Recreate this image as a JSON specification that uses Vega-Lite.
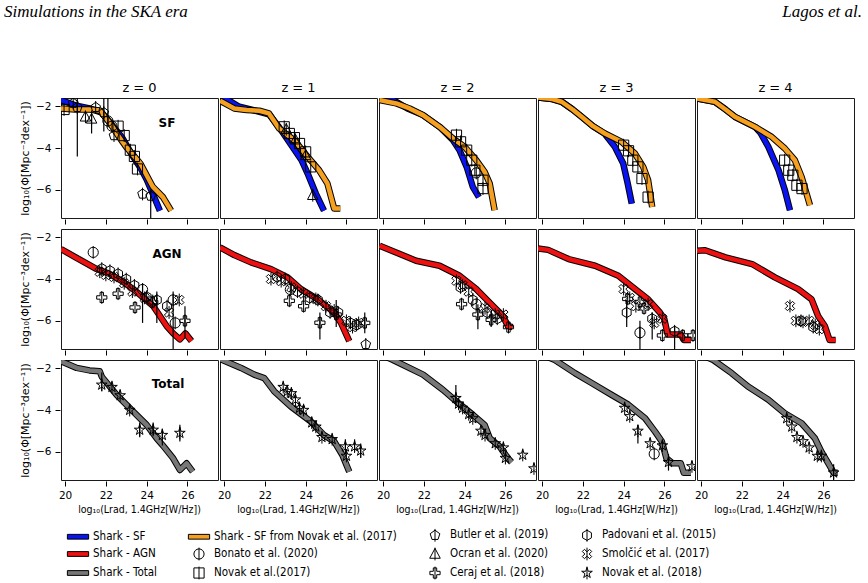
{
  "$schema": "https://vega.github.io/schema/vega-lite/v6.json",
  "background": "white",
  "padding": {"left": 4, "top": 2, "right": 5, "bottom": 2},
  "config": {
    "view": {"stroke": "#1a1a1a", "strokeWidth": 1},
    "font": "DejaVu Sans",
    "axis": {"labelFont": "DejaVu Sans", "labelFontSize": 10.5, "labelColor": "#000", "tickColor": "#000", "tickSize": 5, "tickWidth": 1, "labelPadding": 4, "domain": false, "grid": false, "titleFont": "DejaVu Sans", "titleFontSize": 11, "titleFontWeight": "normal", "titleColor": "#000", "titlePadding": 5},
    "header": {"labelFont": "DejaVu Sans", "labelColor": "#000"},
    "legend": {"labelFont": "DejaVu Sans Condensed", "labelFontSize": 11.5, "labelColor": "#000", "labelLimit": 400, "symbolStrokeColor": "#000", "symbolStrokeWidth": 1, "symbolSize": 289, "labelOffset": 6, "rowPadding": 1, "columnPadding": 29, "padding": 0}
  },
  "datasets": {
    "lf": [
      {"r":"SF","z":0,"s":"Shark - SF","x":19.8,"y":-1.7},
      {"r":"SF","z":0,"s":"Shark - SF","x":20.5,"y":-1.95},
      {"r":"SF","z":0,"s":"Shark - SF","x":21.2,"y":-2.1},
      {"r":"SF","z":0,"s":"Shark - SF","x":21.8,"y":-2.3},
      {"r":"SF","z":0,"s":"Shark - SF","x":22.3,"y":-2.9},
      {"r":"SF","z":0,"s":"Shark - SF","x":22.8,"y":-3.5},
      {"r":"SF","z":0,"s":"Shark - SF","x":23.3,"y":-4.35},
      {"r":"SF","z":0,"s":"Shark - SF","x":23.7,"y":-4.95},
      {"r":"SF","z":0,"s":"Shark - SF","x":24.0,"y":-5.5},
      {"r":"SF","z":0,"s":"Shark - SF","x":24.35,"y":-6.3},
      {"r":"SF","z":0,"s":"Shark - SF","x":24.65,"y":-7.0},
      {"r":"SF","z":0,"s":"Shark - SF from Novak et al. (2017)","x":19.8,"y":-2.1},
      {"r":"SF","z":0,"s":"Shark - SF from Novak et al. (2017)","x":20.5,"y":-2.15},
      {"r":"SF","z":0,"s":"Shark - SF from Novak et al. (2017)","x":21.2,"y":-2.15},
      {"r":"SF","z":0,"s":"Shark - SF from Novak et al. (2017)","x":21.7,"y":-2.2},
      {"r":"SF","z":0,"s":"Shark - SF from Novak et al. (2017)","x":22.2,"y":-2.8},
      {"r":"SF","z":0,"s":"Shark - SF from Novak et al. (2017)","x":22.6,"y":-3.4},
      {"r":"SF","z":0,"s":"Shark - SF from Novak et al. (2017)","x":23.0,"y":-3.95},
      {"r":"SF","z":0,"s":"Shark - SF from Novak et al. (2017)","x":23.4,"y":-4.4},
      {"r":"SF","z":0,"s":"Shark - SF from Novak et al. (2017)","x":23.7,"y":-4.75},
      {"r":"SF","z":0,"s":"Shark - SF from Novak et al. (2017)","x":24.3,"y":-5.85},
      {"r":"SF","z":0,"s":"Shark - SF from Novak et al. (2017)","x":24.8,"y":-6.35},
      {"r":"SF","z":0,"s":"Shark - SF from Novak et al. (2017)","x":25.2,"y":-7.0},

      {"r":"SF","z":1,"s":"Shark - SF","x":19.8,"y":-1.45},
      {"r":"SF","z":1,"s":"Shark - SF","x":20.2,"y":-1.7},
      {"r":"SF","z":1,"s":"Shark - SF","x":20.7,"y":-2.0},
      {"r":"SF","z":1,"s":"Shark - SF","x":21.5,"y":-2.2},
      {"r":"SF","z":1,"s":"Shark - SF","x":22.2,"y":-2.38},
      {"r":"SF","z":1,"s":"Shark - SF","x":22.7,"y":-3.0},
      {"r":"SF","z":1,"s":"Shark - SF","x":23.3,"y":-3.86},
      {"r":"SF","z":1,"s":"Shark - SF","x":23.8,"y":-4.58},
      {"r":"SF","z":1,"s":"Shark - SF","x":24.1,"y":-5.22},
      {"r":"SF","z":1,"s":"Shark - SF","x":24.5,"y":-6.18},
      {"r":"SF","z":1,"s":"Shark - SF","x":24.9,"y":-7.0},
      {"r":"SF","z":1,"s":"Shark - SF from Novak et al. (2017)","x":19.8,"y":-1.73},
      {"r":"SF","z":1,"s":"Shark - SF from Novak et al. (2017)","x":20.5,"y":-2.1},
      {"r":"SF","z":1,"s":"Shark - SF from Novak et al. (2017)","x":21.1,"y":-2.18},
      {"r":"SF","z":1,"s":"Shark - SF from Novak et al. (2017)","x":21.73,"y":-2.21},
      {"r":"SF","z":1,"s":"Shark - SF from Novak et al. (2017)","x":22.2,"y":-2.34},
      {"r":"SF","z":1,"s":"Shark - SF from Novak et al. (2017)","x":22.7,"y":-3.06},
      {"r":"SF","z":1,"s":"Shark - SF from Novak et al. (2017)","x":23.44,"y":-3.62},
      {"r":"SF","z":1,"s":"Shark - SF from Novak et al. (2017)","x":24.1,"y":-4.42},
      {"r":"SF","z":1,"s":"Shark - SF from Novak et al. (2017)","x":24.66,"y":-5.06},
      {"r":"SF","z":1,"s":"Shark - SF from Novak et al. (2017)","x":25.07,"y":-5.7},
      {"r":"SF","z":1,"s":"Shark - SF from Novak et al. (2017)","x":25.4,"y":-6.9},
      {"r":"SF","z":1,"s":"Shark - SF from Novak et al. (2017)","x":25.7,"y":-6.9},

      {"r":"SF","z":2,"s":"Shark - SF","x":19.8,"y":-1.4},
      {"r":"SF","z":2,"s":"Shark - SF","x":20.5,"y":-1.7},
      {"r":"SF","z":2,"s":"Shark - SF","x":21.2,"y":-2.1},
      {"r":"SF","z":2,"s":"Shark - SF","x":21.96,"y":-2.42},
      {"r":"SF","z":2,"s":"Shark - SF","x":22.77,"y":-2.98},
      {"r":"SF","z":2,"s":"Shark - SF","x":23.43,"y":-3.62},
      {"r":"SF","z":2,"s":"Shark - SF","x":23.75,"y":-4.1},
      {"r":"SF","z":2,"s":"Shark - SF","x":24.1,"y":-4.9},
      {"r":"SF","z":2,"s":"Shark - SF","x":24.4,"y":-5.86},
      {"r":"SF","z":2,"s":"Shark - SF","x":24.7,"y":-6.35},
      {"r":"SF","z":2,"s":"Shark - SF from Novak et al. (2017)","x":19.83,"y":-1.7},
      {"r":"SF","z":2,"s":"Shark - SF from Novak et al. (2017)","x":20.65,"y":-1.86},
      {"r":"SF","z":2,"s":"Shark - SF from Novak et al. (2017)","x":21.3,"y":-2.1},
      {"r":"SF","z":2,"s":"Shark - SF from Novak et al. (2017)","x":21.96,"y":-2.42},
      {"r":"SF","z":2,"s":"Shark - SF from Novak et al. (2017)","x":22.77,"y":-2.98},
      {"r":"SF","z":2,"s":"Shark - SF from Novak et al. (2017)","x":23.43,"y":-3.54},
      {"r":"SF","z":2,"s":"Shark - SF from Novak et al. (2017)","x":24.0,"y":-3.94},
      {"r":"SF","z":2,"s":"Shark - SF from Novak et al. (2017)","x":24.57,"y":-4.58},
      {"r":"SF","z":2,"s":"Shark - SF from Novak et al. (2017)","x":24.98,"y":-5.14},
      {"r":"SF","z":2,"s":"Shark - SF from Novak et al. (2017)","x":25.23,"y":-5.7},
      {"r":"SF","z":2,"s":"Shark - SF from Novak et al. (2017)","x":25.47,"y":-6.98},

      {"r":"SF","z":3,"s":"Shark - SF","x":19.8,"y":-1.58},
      {"r":"SF","z":3,"s":"Shark - SF","x":20.5,"y":-1.65},
      {"r":"SF","z":3,"s":"Shark - SF","x":20.96,"y":-1.78},
      {"r":"SF","z":3,"s":"Shark - SF","x":21.5,"y":-2.15},
      {"r":"SF","z":3,"s":"Shark - SF","x":21.94,"y":-2.5},
      {"r":"SF","z":3,"s":"Shark - SF","x":22.5,"y":-2.95},
      {"r":"SF","z":3,"s":"Shark - SF","x":23.08,"y":-3.32},
      {"r":"SF","z":3,"s":"Shark - SF","x":23.57,"y":-3.94},
      {"r":"SF","z":3,"s":"Shark - SF","x":23.98,"y":-4.74},
      {"r":"SF","z":3,"s":"Shark - SF","x":24.2,"y":-5.7},
      {"r":"SF","z":3,"s":"Shark - SF","x":24.4,"y":-6.66},
      {"r":"SF","z":3,"s":"Shark - SF from Novak et al. (2017)","x":19.8,"y":-1.58},
      {"r":"SF","z":3,"s":"Shark - SF from Novak et al. (2017)","x":20.5,"y":-1.65},
      {"r":"SF","z":3,"s":"Shark - SF from Novak et al. (2017)","x":20.96,"y":-1.78},
      {"r":"SF","z":3,"s":"Shark - SF from Novak et al. (2017)","x":21.5,"y":-2.15},
      {"r":"SF","z":3,"s":"Shark - SF from Novak et al. (2017)","x":21.94,"y":-2.5},
      {"r":"SF","z":3,"s":"Shark - SF from Novak et al. (2017)","x":22.5,"y":-2.95},
      {"r":"SF","z":3,"s":"Shark - SF from Novak et al. (2017)","x":23.08,"y":-3.3},
      {"r":"SF","z":3,"s":"Shark - SF from Novak et al. (2017)","x":23.9,"y":-3.7},
      {"r":"SF","z":3,"s":"Shark - SF from Novak et al. (2017)","x":24.55,"y":-4.26},
      {"r":"SF","z":3,"s":"Shark - SF from Novak et al. (2017)","x":24.96,"y":-4.9},
      {"r":"SF","z":3,"s":"Shark - SF from Novak et al. (2017)","x":25.2,"y":-5.54},
      {"r":"SF","z":3,"s":"Shark - SF from Novak et al. (2017)","x":25.4,"y":-6.82},

      {"r":"SF","z":4,"s":"Shark - SF","x":19.8,"y":-1.62},
      {"r":"SF","z":4,"s":"Shark - SF","x":20.68,"y":-1.78},
      {"r":"SF","z":4,"s":"Shark - SF","x":21.2,"y":-2.15},
      {"r":"SF","z":4,"s":"Shark - SF","x":21.66,"y":-2.5},
      {"r":"SF","z":4,"s":"Shark - SF","x":22.64,"y":-2.98},
      {"r":"SF","z":4,"s":"Shark - SF","x":22.9,"y":-3.25},
      {"r":"SF","z":4,"s":"Shark - SF","x":23.3,"y":-3.94},
      {"r":"SF","z":4,"s":"Shark - SF","x":23.8,"y":-5.06},
      {"r":"SF","z":4,"s":"Shark - SF","x":24.11,"y":-6.02},
      {"r":"SF","z":4,"s":"Shark - SF","x":24.36,"y":-6.98},
      {"r":"SF","z":4,"s":"Shark - SF from Novak et al. (2017)","x":19.8,"y":-1.62},
      {"r":"SF","z":4,"s":"Shark - SF from Novak et al. (2017)","x":20.68,"y":-1.78},
      {"r":"SF","z":4,"s":"Shark - SF from Novak et al. (2017)","x":21.2,"y":-2.15},
      {"r":"SF","z":4,"s":"Shark - SF from Novak et al. (2017)","x":21.66,"y":-2.5},
      {"r":"SF","z":4,"s":"Shark - SF from Novak et al. (2017)","x":22.64,"y":-2.98},
      {"r":"SF","z":4,"s":"Shark - SF from Novak et al. (2017)","x":23.46,"y":-3.46},
      {"r":"SF","z":4,"s":"Shark - SF from Novak et al. (2017)","x":24.11,"y":-4.02},
      {"r":"SF","z":4,"s":"Shark - SF from Novak et al. (2017)","x":24.6,"y":-4.58},
      {"r":"SF","z":4,"s":"Shark - SF from Novak et al. (2017)","x":24.93,"y":-5.38},
      {"r":"SF","z":4,"s":"Shark - SF from Novak et al. (2017)","x":25.34,"y":-6.74},

      {"r":"AGN","z":0,"s":"Shark - AGN","x":19.8,"y":-2.56},
      {"r":"AGN","z":0,"s":"Shark - AGN","x":20.5,"y":-2.95},
      {"r":"AGN","z":0,"s":"Shark - AGN","x":21.55,"y":-3.52},
      {"r":"AGN","z":0,"s":"Shark - AGN","x":22.2,"y":-3.76},
      {"r":"AGN","z":0,"s":"Shark - AGN","x":22.8,"y":-4.1},
      {"r":"AGN","z":0,"s":"Shark - AGN","x":23.34,"y":-4.48},
      {"r":"AGN","z":0,"s":"Shark - AGN","x":24.32,"y":-5.29},
      {"r":"AGN","z":0,"s":"Shark - AGN","x":24.98,"y":-6.25},
      {"r":"AGN","z":0,"s":"Shark - AGN","x":25.3,"y":-6.6},
      {"r":"AGN","z":0,"s":"Shark - AGN","x":25.63,"y":-6.89},
      {"r":"AGN","z":0,"s":"Shark - AGN","x":25.9,"y":-6.6},
      {"r":"AGN","z":0,"s":"Shark - AGN","x":26.2,"y":-6.97},
      {"r":"AGN","z":1,"s":"Shark - AGN","x":19.8,"y":-2.48},
      {"r":"AGN","z":1,"s":"Shark - AGN","x":20.5,"y":-2.85},
      {"r":"AGN","z":1,"s":"Shark - AGN","x":21.32,"y":-3.2},
      {"r":"AGN","z":1,"s":"Shark - AGN","x":22.3,"y":-3.52},
      {"r":"AGN","z":1,"s":"Shark - AGN","x":23.12,"y":-3.92},
      {"r":"AGN","z":1,"s":"Shark - AGN","x":23.77,"y":-4.48},
      {"r":"AGN","z":1,"s":"Shark - AGN","x":24.59,"y":-4.97},
      {"r":"AGN","z":1,"s":"Shark - AGN","x":25.4,"y":-5.6},
      {"r":"AGN","z":1,"s":"Shark - AGN","x":25.73,"y":-6.09},
      {"r":"AGN","z":1,"s":"Shark - AGN","x":26.14,"y":-6.97},
      {"r":"AGN","z":2,"s":"Shark - AGN","x":19.83,"y":-2.4},
      {"r":"AGN","z":2,"s":"Shark - AGN","x":20.7,"y":-2.75},
      {"r":"AGN","z":2,"s":"Shark - AGN","x":21.62,"y":-3.12},
      {"r":"AGN","z":2,"s":"Shark - AGN","x":22.77,"y":-3.36},
      {"r":"AGN","z":2,"s":"Shark - AGN","x":23.75,"y":-3.84},
      {"r":"AGN","z":2,"s":"Shark - AGN","x":24.57,"y":-4.48},
      {"r":"AGN","z":2,"s":"Shark - AGN","x":25.22,"y":-5.12},
      {"r":"AGN","z":2,"s":"Shark - AGN","x":25.88,"y":-5.77},
      {"r":"AGN","z":2,"s":"Shark - AGN","x":26.12,"y":-6.25},
      {"r":"AGN","z":2,"s":"Shark - AGN","x":26.35,"y":-6.3},
      {"r":"AGN","z":3,"s":"Shark - AGN","x":19.8,"y":-2.53},
      {"r":"AGN","z":3,"s":"Shark - AGN","x":20.3,"y":-2.6},
      {"r":"AGN","z":3,"s":"Shark - AGN","x":21.3,"y":-3.04},
      {"r":"AGN","z":3,"s":"Shark - AGN","x":22.6,"y":-3.36},
      {"r":"AGN","z":3,"s":"Shark - AGN","x":23.74,"y":-3.84},
      {"r":"AGN","z":3,"s":"Shark - AGN","x":24.56,"y":-4.48},
      {"r":"AGN","z":3,"s":"Shark - AGN","x":25.2,"y":-4.97},
      {"r":"AGN","z":3,"s":"Shark - AGN","x":25.78,"y":-5.6},
      {"r":"AGN","z":3,"s":"Shark - AGN","x":25.99,"y":-5.9},
      {"r":"AGN","z":3,"s":"Shark - AGN","x":26.16,"y":-6.65},
      {"r":"AGN","z":3,"s":"Shark - AGN","x":26.8,"y":-6.65},
      {"r":"AGN","z":3,"s":"Shark - AGN","x":26.95,"y":-6.92},
      {"r":"AGN","z":3,"s":"Shark - AGN","x":27.3,"y":-6.92},
      {"r":"AGN","z":4,"s":"Shark - AGN","x":19.8,"y":-2.64},
      {"r":"AGN","z":4,"s":"Shark - AGN","x":20.2,"y":-2.62},
      {"r":"AGN","z":4,"s":"Shark - AGN","x":21.2,"y":-2.96},
      {"r":"AGN","z":4,"s":"Shark - AGN","x":22.5,"y":-3.28},
      {"r":"AGN","z":4,"s":"Shark - AGN","x":23.62,"y":-3.92},
      {"r":"AGN","z":4,"s":"Shark - AGN","x":24.76,"y":-4.48},
      {"r":"AGN","z":4,"s":"Shark - AGN","x":25.42,"y":-4.97},
      {"r":"AGN","z":4,"s":"Shark - AGN","x":25.74,"y":-5.77},
      {"r":"AGN","z":4,"s":"Shark - AGN","x":26.07,"y":-6.25},
      {"r":"AGN","z":4,"s":"Shark - AGN","x":26.3,"y":-6.92},
      {"r":"AGN","z":4,"s":"Shark - AGN","x":26.6,"y":-6.92},

      {"r":"Total","z":0,"s":"Shark - Total","x":19.8,"y":-1.66},
      {"r":"Total","z":0,"s":"Shark - Total","x":20.57,"y":-1.98},
      {"r":"Total","z":0,"s":"Shark - Total","x":21.2,"y":-2.1},
      {"r":"Total","z":0,"s":"Shark - Total","x":21.7,"y":-2.14},
      {"r":"Total","z":0,"s":"Shark - Total","x":21.8,"y":-2.4},
      {"r":"Total","z":0,"s":"Shark - Total","x":22.53,"y":-3.27},
      {"r":"Total","z":0,"s":"Shark - Total","x":23.34,"y":-4.07},
      {"r":"Total","z":0,"s":"Shark - Total","x":24.0,"y":-4.71},
      {"r":"Total","z":0,"s":"Shark - Total","x":24.49,"y":-5.35},
      {"r":"Total","z":0,"s":"Shark - Total","x":24.8,"y":-5.7},
      {"r":"Total","z":0,"s":"Shark - Total","x":25.3,"y":-6.31},
      {"r":"Total","z":0,"s":"Shark - Total","x":25.63,"y":-6.87},
      {"r":"Total","z":0,"s":"Shark - Total","x":25.96,"y":-6.55},
      {"r":"Total","z":0,"s":"Shark - Total","x":26.26,"y":-6.95},
      {"r":"Total","z":1,"s":"Shark - Total","x":19.8,"y":-1.55},
      {"r":"Total","z":1,"s":"Shark - Total","x":20.83,"y":-1.98},
      {"r":"Total","z":1,"s":"Shark - Total","x":21.48,"y":-2.3},
      {"r":"Total","z":1,"s":"Shark - Total","x":21.97,"y":-2.47},
      {"r":"Total","z":1,"s":"Shark - Total","x":22.46,"y":-3.1},
      {"r":"Total","z":1,"s":"Shark - Total","x":23.28,"y":-3.83},
      {"r":"Total","z":1,"s":"Shark - Total","x":24.26,"y":-4.55},
      {"r":"Total","z":1,"s":"Shark - Total","x":24.9,"y":-5.2},
      {"r":"Total","z":1,"s":"Shark - Total","x":25.4,"y":-5.5},
      {"r":"Total","z":1,"s":"Shark - Total","x":25.8,"y":-6.15},
      {"r":"Total","z":1,"s":"Shark - Total","x":26.14,"y":-6.95},
      {"r":"Total","z":2,"s":"Shark - Total","x":19.8,"y":-1.3},
      {"r":"Total","z":2,"s":"Shark - Total","x":20.49,"y":-1.6},
      {"r":"Total","z":2,"s":"Shark - Total","x":21.96,"y":-2.3},
      {"r":"Total","z":2,"s":"Shark - Total","x":22.94,"y":-3.03},
      {"r":"Total","z":2,"s":"Shark - Total","x":23.6,"y":-3.59},
      {"r":"Total","z":2,"s":"Shark - Total","x":24.41,"y":-4.23},
      {"r":"Total","z":2,"s":"Shark - Total","x":24.98,"y":-4.71},
      {"r":"Total","z":2,"s":"Shark - Total","x":25.23,"y":-5.35},
      {"r":"Total","z":2,"s":"Shark - Total","x":25.72,"y":-5.75},
      {"r":"Total","z":2,"s":"Shark - Total","x":26.13,"y":-6.31},
      {"r":"Total","z":2,"s":"Shark - Total","x":26.3,"y":-6.5},
      {"r":"Total","z":3,"s":"Shark - Total","x":20.0,"y":-1.35},
      {"r":"Total","z":3,"s":"Shark - Total","x":20.63,"y":-1.6},
      {"r":"Total","z":3,"s":"Shark - Total","x":21.61,"y":-2.23},
      {"r":"Total","z":3,"s":"Shark - Total","x":22.43,"y":-2.7},
      {"r":"Total","z":3,"s":"Shark - Total","x":23.41,"y":-3.27},
      {"r":"Total","z":3,"s":"Shark - Total","x":24.23,"y":-3.74},
      {"r":"Total","z":3,"s":"Shark - Total","x":25.05,"y":-4.39},
      {"r":"Total","z":3,"s":"Shark - Total","x":25.54,"y":-5.03},
      {"r":"Total","z":3,"s":"Shark - Total","x":25.87,"y":-5.5},
      {"r":"Total","z":3,"s":"Shark - Total","x":26.1,"y":-6.31},
      {"r":"Total","z":3,"s":"Shark - Total","x":26.4,"y":-6.55},
      {"r":"Total","z":3,"s":"Shark - Total","x":26.8,"y":-6.55},
      {"r":"Total","z":3,"s":"Shark - Total","x":26.95,"y":-7.0},
      {"r":"Total","z":3,"s":"Shark - Total","x":27.3,"y":-7.0},
      {"r":"Total","z":4,"s":"Shark - Total","x":20.0,"y":-1.35},
      {"r":"Total","z":4,"s":"Shark - Total","x":20.6,"y":-1.6},
      {"r":"Total","z":4,"s":"Shark - Total","x":21.5,"y":-2.23},
      {"r":"Total","z":4,"s":"Shark - Total","x":22.3,"y":-2.87},
      {"r":"Total","z":4,"s":"Shark - Total","x":23.3,"y":-3.5},
      {"r":"Total","z":4,"s":"Shark - Total","x":24.1,"y":-4.15},
      {"r":"Total","z":4,"s":"Shark - Total","x":24.93,"y":-4.63},
      {"r":"Total","z":4,"s":"Shark - Total","x":25.58,"y":-5.35},
      {"r":"Total","z":4,"s":"Shark - Total","x":25.9,"y":-5.99},
      {"r":"Total","z":4,"s":"Shark - Total","x":26.24,"y":-6.55},
      {"r":"Total","z":4,"s":"Shark - Total","x":26.5,"y":-7.0},
      {"r":"Total","z":4,"s":"Shark - Total","x":26.7,"y":-7.0},

      {"r":"SF","z":0,"s":"Novak et al.(2017)","x":19.95,"y":-2.15},
      {"r":"SF","z":0,"s":"Novak et al.(2017)","x":22.6,"y":-2.95},
      {"r":"SF","z":0,"s":"Novak et al.(2017)","x":22.9,"y":-3.4},
      {"r":"SF","z":0,"s":"Novak et al.(2017)","x":23.2,"y":-4.1},
      {"r":"SF","z":0,"s":"Novak et al.(2017)","x":23.4,"y":-4.4},
      {"r":"SF","z":0,"s":"Novak et al.(2017)","x":23.55,"y":-5.0},
      {"r":"SF","z":0,"s":"Ocran et al. (2020)","x":21.0,"y":-2.5},
      {"r":"SF","z":0,"s":"Ocran et al. (2020)","x":21.3,"y":-2.6,"lo":-3.3,"hi":-2.2},
      {"r":"SF","z":0,"s":"Butler et al. (2019)","x":20.4,"y":-1.85},
      {"r":"SF","z":0,"s":"Butler et al. (2019)","x":20.6,"y":-2.05,"lo":-4.4,"hi":-1.5},
      {"r":"SF","z":0,"s":"Butler et al. (2019)","x":21.5,"y":-2.05},
      {"r":"SF","z":0,"s":"Butler et al. (2019)","x":21.9,"y":-2.3,"lo":-3.2,"hi":-1.5},
      {"r":"SF","z":0,"s":"Butler et al. (2019)","x":22.4,"y":-3.4},
      {"r":"SF","z":0,"s":"Butler et al. (2019)","x":23.8,"y":-6.2},
      {"r":"SF","z":0,"s":"Butler et al. (2019)","x":24.2,"y":-6.3,"lo":-7.5,"hi":-6.0},
      {"r":"SF","z":0,"s":"Bonato et al. (2020)","x":22.1,"y":-2.7,"lo":-2.9,"hi":-1.5},
      {"r":"SF","z":0,"s":"Bonato et al. (2020)","x":22.3,"y":-2.95},
      {"r":"SF","z":1,"s":"Novak et al.(2017)","x":22.95,"y":-2.98},
      {"r":"SF","z":1,"s":"Novak et al.(2017)","x":23.2,"y":-3.3},
      {"r":"SF","z":1,"s":"Novak et al.(2017)","x":23.45,"y":-3.5},
      {"r":"SF","z":1,"s":"Novak et al.(2017)","x":23.7,"y":-3.78},
      {"r":"SF","z":1,"s":"Novak et al.(2017)","x":24.0,"y":-4.18},
      {"r":"SF","z":1,"s":"Novak et al.(2017)","x":24.25,"y":-4.9},
      {"r":"SF","z":1,"s":"Ocran et al. (2020)","x":23.05,"y":-3.1},
      {"r":"SF","z":1,"s":"Ocran et al. (2020)","x":23.5,"y":-3.6},
      {"r":"SF","z":1,"s":"Ocran et al. (2020)","x":24.0,"y":-4.35},
      {"r":"SF","z":1,"s":"Ocran et al. (2020)","x":24.35,"y":-6.26},
      {"r":"SF","z":2,"s":"Novak et al.(2017)","x":23.6,"y":-3.38},
      {"r":"SF","z":2,"s":"Novak et al.(2017)","x":23.8,"y":-3.7},
      {"r":"SF","z":2,"s":"Novak et al.(2017)","x":24.1,"y":-4.1},
      {"r":"SF","z":2,"s":"Novak et al.(2017)","x":24.35,"y":-4.58},
      {"r":"SF","z":2,"s":"Novak et al.(2017)","x":24.5,"y":-5.06},
      {"r":"SF","z":2,"s":"Novak et al.(2017)","x":24.9,"y":-5.54},
      {"r":"SF","z":2,"s":"Novak et al.(2017)","x":24.9,"y":-5.94},
      {"r":"SF","z":2,"s":"Bonato et al. (2020)","x":24.57,"y":-5.19},
      {"r":"SF","z":3,"s":"Novak et al.(2017)","x":24.0,"y":-3.86},
      {"r":"SF","z":3,"s":"Novak et al.(2017)","x":24.24,"y":-4.13},
      {"r":"SF","z":3,"s":"Novak et al.(2017)","x":24.45,"y":-4.58},
      {"r":"SF","z":3,"s":"Novak et al.(2017)","x":24.7,"y":-4.9},
      {"r":"SF","z":3,"s":"Novak et al.(2017)","x":24.9,"y":-5.46},
      {"r":"SF","z":3,"s":"Novak et al.(2017)","x":25.2,"y":-6.35},
      {"r":"SF","z":4,"s":"Novak et al.(2017)","x":24.1,"y":-4.58},
      {"r":"SF","z":4,"s":"Novak et al.(2017)","x":24.3,"y":-5.06},
      {"r":"SF","z":4,"s":"Novak et al.(2017)","x":24.5,"y":-5.3},
      {"r":"SF","z":4,"s":"Novak et al.(2017)","x":24.7,"y":-5.78},
      {"r":"SF","z":4,"s":"Novak et al.(2017)","x":24.95,"y":-5.94},

      {"r":"AGN","z":0,"s":"Bonato et al. (2020)","x":21.38,"y":-2.72},
      {"r":"AGN","z":0,"s":"Bonato et al. (2020)","x":23.8,"y":-4.5,"lo":-6.1,"hi":-4.2},
      {"r":"AGN","z":0,"s":"Bonato et al. (2020)","x":25.3,"y":-5.0,"lo":-7.4,"hi":-4.6},
      {"r":"AGN","z":0,"s":"Bonato et al. (2020)","x":25.4,"y":-6.1},
      {"r":"AGN","z":0,"s":"Padovani et al. (2015)","x":21.8,"y":-3.5},
      {"r":"AGN","z":0,"s":"Padovani et al. (2015)","x":22.2,"y":-3.6},
      {"r":"AGN","z":0,"s":"Padovani et al. (2015)","x":22.6,"y":-3.75},
      {"r":"AGN","z":0,"s":"Padovani et al. (2015)","x":23.0,"y":-4.0},
      {"r":"AGN","z":0,"s":"Padovani et al. (2015)","x":23.4,"y":-4.3},
      {"r":"AGN","z":0,"s":"Padovani et al. (2015)","x":24.0,"y":-4.85},
      {"r":"AGN","z":0,"s":"Padovani et al. (2015)","x":24.5,"y":-5.0,"lo":-6.1,"hi":-4.6},
      {"r":"AGN","z":0,"s":"Padovani et al. (2015)","x":25.0,"y":-5.3},
      {"r":"AGN","z":0,"s":"Smolčić et al. (2017)","x":21.7,"y":-3.65},
      {"r":"AGN","z":0,"s":"Smolčić et al. (2017)","x":22.0,"y":-3.8},
      {"r":"AGN","z":0,"s":"Smolčić et al. (2017)","x":22.4,"y":-3.9},
      {"r":"AGN","z":0,"s":"Smolčić et al. (2017)","x":22.9,"y":-4.2},
      {"r":"AGN","z":0,"s":"Smolčić et al. (2017)","x":23.3,"y":-4.6},
      {"r":"AGN","z":0,"s":"Smolčić et al. (2017)","x":23.9,"y":-4.9},
      {"r":"AGN","z":0,"s":"Smolčić et al. (2017)","x":24.3,"y":-5.05},
      {"r":"AGN","z":0,"s":"Smolčić et al. (2017)","x":25.1,"y":-5.6},
      {"r":"AGN","z":0,"s":"Smolčić et al. (2017)","x":25.6,"y":-5.0},
      {"r":"AGN","z":0,"s":"Ceraj et al. (2018)","x":21.8,"y":-4.88},
      {"r":"AGN","z":0,"s":"Ceraj et al. (2018)","x":22.6,"y":-4.7},
      {"r":"AGN","z":0,"s":"Ceraj et al. (2018)","x":23.43,"y":-5.36},
      {"r":"AGN","z":0,"s":"Ceraj et al. (2018)","x":24.3,"y":-5.1},
      {"r":"AGN","z":0,"s":"Ceraj et al. (2018)","x":25.88,"y":-6.0,"lo":-6.8,"hi":-5.3},
      {"r":"AGN","z":1,"s":"Padovani et al. (2015)","x":22.6,"y":-3.9},
      {"r":"AGN","z":1,"s":"Padovani et al. (2015)","x":23.0,"y":-4.0},
      {"r":"AGN","z":1,"s":"Padovani et al. (2015)","x":23.6,"y":-4.6},
      {"r":"AGN","z":1,"s":"Padovani et al. (2015)","x":24.2,"y":-4.9},
      {"r":"AGN","z":1,"s":"Padovani et al. (2015)","x":24.6,"y":-5.0},
      {"r":"AGN","z":1,"s":"Padovani et al. (2015)","x":25.2,"y":-5.6},
      {"r":"AGN","z":1,"s":"Padovani et al. (2015)","x":25.6,"y":-5.6},
      {"r":"AGN","z":1,"s":"Padovani et al. (2015)","x":26.2,"y":-6.1},
      {"r":"AGN","z":1,"s":"Padovani et al. (2015)","x":26.5,"y":-6.2},
      {"r":"AGN","z":1,"s":"Smolčić et al. (2017)","x":22.3,"y":-4.0},
      {"r":"AGN","z":1,"s":"Smolčić et al. (2017)","x":22.8,"y":-4.1},
      {"r":"AGN","z":1,"s":"Smolčić et al. (2017)","x":23.3,"y":-4.4},
      {"r":"AGN","z":1,"s":"Smolčić et al. (2017)","x":23.9,"y":-4.7},
      {"r":"AGN","z":1,"s":"Smolčić et al. (2017)","x":24.5,"y":-4.95},
      {"r":"AGN","z":1,"s":"Smolčić et al. (2017)","x":25.0,"y":-5.3},
      {"r":"AGN","z":1,"s":"Smolčić et al. (2017)","x":25.4,"y":-5.5},
      {"r":"AGN","z":1,"s":"Smolčić et al. (2017)","x":26.0,"y":-6.0},
      {"r":"AGN","z":1,"s":"Smolčić et al. (2017)","x":26.3,"y":-6.3},
      {"r":"AGN","z":1,"s":"Smolčić et al. (2017)","x":26.6,"y":-6.1},
      {"r":"AGN","z":1,"s":"Ceraj et al. (2018)","x":23.2,"y":-5.04},
      {"r":"AGN","z":1,"s":"Ceraj et al. (2018)","x":23.9,"y":-5.3},
      {"r":"AGN","z":1,"s":"Ceraj et al. (2018)","x":24.7,"y":-6.09,"lo":-6.9,"hi":-5.6},
      {"r":"AGN","z":1,"s":"Ceraj et al. (2018)","x":25.5,"y":-5.7,"lo":-6.3,"hi":-5.0},
      {"r":"AGN","z":1,"s":"Ceraj et al. (2018)","x":26.9,"y":-6.1,"lo":-6.6,"hi":-5.6},
      {"r":"AGN","z":1,"s":"Butler et al. (2019)","x":26.95,"y":-7.13},
      {"r":"AGN","z":1,"s":"Bonato et al. (2020)","x":23.25,"y":-4.5},
      {"r":"AGN","z":2,"s":"Smolčić et al. (2017)","x":23.6,"y":-4.08},
      {"r":"AGN","z":2,"s":"Smolčić et al. (2017)","x":23.9,"y":-4.3},
      {"r":"AGN","z":2,"s":"Smolčić et al. (2017)","x":24.2,"y":-4.6},
      {"r":"AGN","z":2,"s":"Smolčić et al. (2017)","x":25.0,"y":-5.4},
      {"r":"AGN","z":2,"s":"Smolčić et al. (2017)","x":25.5,"y":-5.7},
      {"r":"AGN","z":2,"s":"Smolčić et al. (2017)","x":25.9,"y":-5.7},
      {"r":"AGN","z":2,"s":"Padovani et al. (2015)","x":23.8,"y":-4.4},
      {"r":"AGN","z":2,"s":"Padovani et al. (2015)","x":24.4,"y":-5.0},
      {"r":"AGN","z":2,"s":"Padovani et al. (2015)","x":25.1,"y":-5.6},
      {"r":"AGN","z":2,"s":"Padovani et al. (2015)","x":25.6,"y":-5.9},
      {"r":"AGN","z":2,"s":"Ceraj et al. (2018)","x":23.85,"y":-5.2},
      {"r":"AGN","z":2,"s":"Ceraj et al. (2018)","x":24.65,"y":-5.7,"lo":-6.4,"hi":-5.2},
      {"r":"AGN","z":2,"s":"Ceraj et al. (2018)","x":25.3,"y":-5.95,"lo":-6.3,"hi":-5.5},
      {"r":"AGN","z":2,"s":"Ceraj et al. (2018)","x":26.15,"y":-6.3},
      {"r":"AGN","z":2,"s":"Bonato et al. (2020)","x":24.57,"y":-5.2},
      {"r":"AGN","z":3,"s":"Smolčić et al. (2017)","x":24.0,"y":-4.48},
      {"r":"AGN","z":3,"s":"Smolčić et al. (2017)","x":24.3,"y":-4.9},
      {"r":"AGN","z":3,"s":"Smolčić et al. (2017)","x":24.6,"y":-5.3},
      {"r":"AGN","z":3,"s":"Smolčić et al. (2017)","x":25.2,"y":-5.2},
      {"r":"AGN","z":3,"s":"Smolčić et al. (2017)","x":25.5,"y":-6.1},
      {"r":"AGN","z":3,"s":"Smolčić et al. (2017)","x":25.9,"y":-5.9},
      {"r":"AGN","z":3,"s":"Ceraj et al. (2018)","x":24.2,"y":-4.95},
      {"r":"AGN","z":3,"s":"Ceraj et al. (2018)","x":24.8,"y":-5.1},
      {"r":"AGN","z":3,"s":"Ceraj et al. (2018)","x":25.0,"y":-5.4},
      {"r":"AGN","z":3,"s":"Ceraj et al. (2018)","x":25.9,"y":-6.7},
      {"r":"AGN","z":3,"s":"Ceraj et al. (2018)","x":26.9,"y":-6.7},
      {"r":"AGN","z":3,"s":"Ceraj et al. (2018)","x":27.4,"y":-6.7},
      {"r":"AGN","z":3,"s":"Padovani et al. (2015)","x":24.15,"y":-5.6,"lo":-6.3,"hi":-5.0},
      {"r":"AGN","z":3,"s":"Padovani et al. (2015)","x":25.4,"y":-5.9,"lo":-6.9,"hi":-5.6},
      {"r":"AGN","z":3,"s":"Padovani et al. (2015)","x":26.5,"y":-6.5,"lo":-7.4,"hi":-6.3},
      {"r":"AGN","z":3,"s":"Bonato et al. (2020)","x":24.8,"y":-6.57,"lo":-7.4,"hi":-6.0},
      {"r":"AGN","z":4,"s":"Smolčić et al. (2017)","x":24.36,"y":-5.29},
      {"r":"AGN","z":4,"s":"Smolčić et al. (2017)","x":24.65,"y":-6.0},
      {"r":"AGN","z":4,"s":"Smolčić et al. (2017)","x":25.0,"y":-6.05},
      {"r":"AGN","z":4,"s":"Smolčić et al. (2017)","x":25.3,"y":-6.0},
      {"r":"AGN","z":4,"s":"Smolčić et al. (2017)","x":25.6,"y":-6.2},
      {"r":"AGN","z":4,"s":"Smolčić et al. (2017)","x":25.8,"y":-6.4},
      {"r":"AGN","z":4,"s":"Padovani et al. (2015)","x":24.9,"y":-6.0},
      {"r":"AGN","z":4,"s":"Padovani et al. (2015)","x":25.5,"y":-6.3},

      {"r":"Total","z":0,"s":"Novak et al. (2018)","x":21.8,"y":-2.79,"lo":-3.1,"hi":-2.2},
      {"r":"Total","z":0,"s":"Novak et al. (2018)","x":22.3,"y":-2.9},
      {"r":"Total","z":0,"s":"Novak et al. (2018)","x":22.7,"y":-3.3},
      {"r":"Total","z":0,"s":"Novak et al. (2018)","x":23.17,"y":-4.0},
      {"r":"Total","z":0,"s":"Novak et al. (2018)","x":23.66,"y":-4.95,"lo":-5.3,"hi":-4.6},
      {"r":"Total","z":0,"s":"Novak et al. (2018)","x":24.32,"y":-4.95,"lo":-5.2,"hi":-4.6},
      {"r":"Total","z":0,"s":"Novak et al. (2018)","x":24.77,"y":-5.2,"lo":-5.7,"hi":-4.9},
      {"r":"Total","z":0,"s":"Novak et al. (2018)","x":25.63,"y":-5.1,"lo":-5.5,"hi":-4.7},
      {"r":"Total","z":1,"s":"Novak et al. (2018)","x":22.9,"y":-2.9},
      {"r":"Total","z":1,"s":"Novak et al. (2018)","x":23.1,"y":-3.1},
      {"r":"Total","z":1,"s":"Novak et al. (2018)","x":23.3,"y":-3.2},
      {"r":"Total","z":1,"s":"Novak et al. (2018)","x":23.5,"y":-3.5},
      {"r":"Total","z":1,"s":"Novak et al. (2018)","x":23.7,"y":-3.9},
      {"r":"Total","z":1,"s":"Novak et al. (2018)","x":23.9,"y":-4.0},
      {"r":"Total","z":1,"s":"Novak et al. (2018)","x":24.3,"y":-4.6},
      {"r":"Total","z":1,"s":"Novak et al. (2018)","x":24.5,"y":-4.8},
      {"r":"Total","z":1,"s":"Novak et al. (2018)","x":24.8,"y":-5.3},
      {"r":"Total","z":1,"s":"Novak et al. (2018)","x":25.3,"y":-5.4},
      {"r":"Total","z":1,"s":"Novak et al. (2018)","x":25.95,"y":-5.75,"lo":-6.1,"hi":-5.4},
      {"r":"Total","z":1,"s":"Novak et al. (2018)","x":26.0,"y":-6.2},
      {"r":"Total","z":1,"s":"Novak et al. (2018)","x":26.4,"y":-5.75,"lo":-6.0,"hi":-5.4},
      {"r":"Total","z":1,"s":"Novak et al. (2018)","x":26.7,"y":-5.95,"lo":-6.3,"hi":-5.6},
      {"r":"Total","z":2,"s":"Novak et al. (2018)","x":23.57,"y":-3.43,"lo":-3.8,"hi":-2.8},
      {"r":"Total","z":2,"s":"Novak et al. (2018)","x":23.7,"y":-3.7},
      {"r":"Total","z":2,"s":"Novak et al. (2018)","x":23.9,"y":-3.9},
      {"r":"Total","z":2,"s":"Novak et al. (2018)","x":24.2,"y":-4.2},
      {"r":"Total","z":2,"s":"Novak et al. (2018)","x":24.4,"y":-4.4},
      {"r":"Total","z":2,"s":"Novak et al. (2018)","x":24.8,"y":-5.0},
      {"r":"Total","z":2,"s":"Novak et al. (2018)","x":25.0,"y":-5.2},
      {"r":"Total","z":2,"s":"Novak et al. (2018)","x":25.5,"y":-5.6},
      {"r":"Total","z":2,"s":"Novak et al. (2018)","x":25.9,"y":-5.8},
      {"r":"Total","z":2,"s":"Novak et al. (2018)","x":26.0,"y":-6.3},
      {"r":"Total","z":2,"s":"Novak et al. (2018)","x":26.85,"y":-6.15},
      {"r":"Total","z":2,"s":"Novak et al. (2018)","x":27.4,"y":-6.8},
      {"r":"Total","z":3,"s":"Novak et al. (2018)","x":24.05,"y":-3.9},
      {"r":"Total","z":3,"s":"Novak et al. (2018)","x":24.3,"y":-4.3},
      {"r":"Total","z":3,"s":"Novak et al. (2018)","x":24.7,"y":-5.0,"lo":-5.6,"hi":-4.7},
      {"r":"Total","z":3,"s":"Novak et al. (2018)","x":25.3,"y":-5.6},
      {"r":"Total","z":3,"s":"Novak et al. (2018)","x":25.9,"y":-5.7},
      {"r":"Total","z":3,"s":"Novak et al. (2018)","x":26.2,"y":-6.5,"lo":-6.9,"hi":-6.1},
      {"r":"Total","z":3,"s":"Novak et al. (2018)","x":27.35,"y":-6.7},
      {"r":"Total","z":3,"s":"Bonato et al. (2020)","x":25.5,"y":-6.1},
      {"r":"Total","z":4,"s":"Novak et al. (2018)","x":24.2,"y":-4.4},
      {"r":"Total","z":4,"s":"Novak et al. (2018)","x":24.45,"y":-4.8},
      {"r":"Total","z":4,"s":"Novak et al. (2018)","x":24.7,"y":-5.3},
      {"r":"Total","z":4,"s":"Novak et al. (2018)","x":25.0,"y":-5.5},
      {"r":"Total","z":4,"s":"Novak et al. (2018)","x":25.3,"y":-5.8},
      {"r":"Total","z":4,"s":"Novak et al. (2018)","x":25.7,"y":-6.2},
      {"r":"Total","z":4,"s":"Novak et al. (2018)","x":25.9,"y":-6.2},
      {"r":"Total","z":4,"s":"Novak et al. (2018)","x":26.5,"y":-7.0,"lo":-7.4,"hi":-6.6},

      {"r":"SF","z":0,"s":"lbl","t":"SF","x":25.0,"y":-2.8},
      {"r":"AGN","z":0,"s":"lbl","t":"AGN","x":25.0,"y":-2.8},
      {"r":"Total","z":0,"s":"lbl","t":"Total","x":25.05,"y":-2.75}
    ]
  },
  "vconcat": [
    {
      "data": {"values": [{"t": "Simulations in the SKA era", "side": "left"}, {"t": "Lagos et al.", "side": "right"}]},
      "width": 801,
      "height": 20,
      "view": {"stroke": null},
      "encoding": {
        "x": {"field": "side", "type": "nominal", "scale": {"type": "point", "padding": 0, "domain": ["left", "right"]}, "axis": null},
        "text": {"field": "t"}
      },
      "layer": [
        {"transform": [{"filter": "datum.side == 'left'"}], "mark": {"type": "text", "font": "Liberation Serif", "fontStyle": "italic", "fontSize": 17, "align": "left", "baseline": "middle", "dx": -57, "color": "#000"}},
        {"transform": [{"filter": "datum.side == 'right'"}], "mark": {"type": "text", "font": "Liberation Serif", "fontStyle": "italic", "fontSize": 17, "align": "right", "baseline": "middle", "color": "#000"}}
      ]
    },
    {
      "spacing": 3,
      "resolve": {"scale": {"fill": "shared", "shape": "shared", "stroke": "shared"}, "legend": {"fill": "shared", "shape": "shared", "stroke": "shared"}},
      "vconcat": [
        {
          "data": {"name": "lf"},
          "transform": [{"filter": "datum.r == 'SF'"}],
          "facet": {"column": {"field": "z", "type": "ordinal", "title": null, "header": {"title": null, "labelFontSize": 13, "labelPadding": 2, "labelExpr": "'z = ' + datum.value"}}},
          "spacing": {"column": 0},
          "spec": {
            "width": 157,
            "height": 120,
            "encoding": {
              "x": {"field": "x", "type": "quantitative", "scale": {"domain": [19.8, 27.5], "nice": false, "zero": false}, "axis": {"values": [20, 22, 24, 26], "labels": false, "title": null}},
              "y": {"field": "y", "type": "quantitative", "scale": {"domain": [-7.35, -1.6], "nice": false, "zero": false}, "axis": {"values": [-2, -4, -6], "title": "log₁₀(Φ[Mpc⁻³dex⁻¹])"}}
            },
            "layer": [
              {"transform": [{"filter": "datum.s == 'Shark - SF'"}], "mark": {"type": "line", "clip": true, "stroke": "#000", "strokeWidth": 6.5, "strokeJoin": "round"}, "encoding": {}},
              {"transform": [{"filter": "datum.s == 'Shark - SF'"}], "mark": {"type": "line", "clip": true, "stroke": "#0a14f0", "strokeWidth": 4.5, "strokeJoin": "round"}, "encoding": {}},
              {"transform": [{"filter": "datum.s == 'Shark - SF from Novak et al. (2017)'"}], "mark": {"type": "line", "clip": true, "stroke": "#000", "strokeWidth": 6.5, "strokeJoin": "round"}, "encoding": {}},
              {"transform": [{"filter": "datum.s == 'Shark - SF from Novak et al. (2017)'"}], "mark": {"type": "line", "clip": true, "stroke": "#f5a020", "strokeWidth": 4.5, "strokeJoin": "round"}, "encoding": {}},
              {"transform": [{"filter": "isValid(datum.lo)"}], "mark": {"type": "rule", "clip": true, "color": "#000", "strokeWidth": 1.2}, "encoding": {"y": {"field": "lo", "type": "quantitative"}, "y2": {"field": "hi"}}},
              {"transform": [{"filter": "datum.s != 'lbl' && indexof(datum.s, 'Shark') != 0"}], "mark": {"type": "point", "filled": true, "strokeWidth": 1, "size": 289, "opacity": 1, "clip": true},
               "encoding": {
                 "shape": {"field": "s", "type": "nominal", "scale": {"domain": ["Shark - SF", "Shark - SF from Novak et al. (2017)", "Butler et al. (2019)", "Padovani et al. (2015)", "Shark - AGN", "Bonato et al. (2020)", "Ocran et al. (2020)", "Smolčić et al. (2017)", "Shark - Total", "Novak et al.(2017)", "Ceraj et al. (2018)", "Novak et al. (2018)"], "range": ["M-1.25,-0.28L1.25,-0.28L1.25,0.28L-1.25,0.28Z", "M-1.25,-0.28L1.25,-0.28L1.25,0.28L-1.25,0.28Z", "M0,-0.6L0.571,-0.186L0.353,0.486L-0.353,0.486L-0.571,-0.186ZM0,-0.75L0,0.75", "M0,-0.6L0.52,-0.3L0.52,0.3L0,0.6L-0.52,0.3L-0.52,-0.3ZM0,-0.75L0,0.75", "M-1.25,-0.28L1.25,-0.28L1.25,0.28L-1.25,0.28Z", "M-0.6,0A0.6,0.6 0 1,1 0.6,0A0.6,0.6 0 1,1 -0.6,0ZM0,-0.75L0,0.75", "M0,-0.66L0.62,0.5L-0.62,0.5ZM0,-0.75L0,0.75", "M0.298,-0.552L0.552,-0.298L0.254,0L0.552,0.298L0.298,0.552L0,0.254L-0.298,0.552L-0.552,0.298L-0.254,0L-0.552,-0.298L-0.298,-0.552L0,-0.254ZM0,-0.75L0,0.75", "M-1.25,-0.28L1.25,-0.28L1.25,0.28L-1.25,0.28Z", "M-0.6,-0.6L0.6,-0.6L0.6,0.6L-0.6,0.6ZM0,-0.75L0,0.75", "M-0.2,-0.6L0.2,-0.6L0.2,-0.2L0.6,-0.2L0.6,0.2L0.2,0.2L0.2,0.6L-0.2,0.6L-0.2,0.2L-0.6,0.2L-0.6,-0.2L-0.2,-0.2ZM0,-0.75L0,0.75", "M0,-0.66L0.148,-0.203L0.628,-0.204L0.239,0.077L0.388,0.534L0,0.251L-0.388,0.534L-0.239,0.077L-0.628,-0.204L-0.148,-0.203ZM0,-0.75L0,0.75"]},
                   "legend": {"orient": "none", "legendX": 8, "legendY": 524, "columns": 4, "direction": "horizontal", "title": null}},
                 "fill": {"field": "s", "type": "nominal", "scale": {"domain": ["Shark - SF", "Shark - SF from Novak et al. (2017)", "Butler et al. (2019)", "Padovani et al. (2015)", "Shark - AGN", "Bonato et al. (2020)", "Ocran et al. (2020)", "Smolčić et al. (2017)", "Shark - Total", "Novak et al.(2017)", "Ceraj et al. (2018)", "Novak et al. (2018)"], "range": ["#0a14f0", "#f5a020", "transparent", "transparent", "#ee1111", "transparent", "transparent", "transparent", "#777777", "transparent", "transparent", "transparent"]},
                   "legend": {"orient": "none", "legendX": 8, "legendY": 524, "columns": 4, "direction": "horizontal", "title": null}},
                 "stroke": {"field": "s", "type": "nominal", "scale": {"domain": ["Shark - SF", "Shark - SF from Novak et al. (2017)", "Butler et al. (2019)", "Padovani et al. (2015)", "Shark - AGN", "Bonato et al. (2020)", "Ocran et al. (2020)", "Smolčić et al. (2017)", "Shark - Total", "Novak et al.(2017)", "Ceraj et al. (2018)", "Novak et al. (2018)"], "range": ["#000", "#000", "#000", "#000", "#000", "#000", "#000", "#000", "#000", "#000", "#000", "#000"]},
                   "legend": {"orient": "none", "legendX": 8, "legendY": 524, "columns": 4, "direction": "horizontal", "title": null}}
               }},
              {"transform": [{"filter": "datum.s == 'lbl'"}], "mark": {"type": "text", "font": "DejaVu Sans", "fontWeight": "bold", "fontSize": 12, "color": "#000"}, "encoding": {"text": {"field": "t"}}}
            ]
          }
        },
        {
          "data": {"name": "lf"},
          "transform": [{"filter": "datum.r == 'AGN'"}],
          "facet": {"column": {"field": "z", "type": "ordinal", "title": null, "header": {"title": null, "labels": false}}},
          "spacing": {"column": 0},
          "spec": {
            "width": 157,
            "height": 120,
            "encoding": {
              "x": {"field": "x", "type": "quantitative", "scale": {"domain": [19.8, 27.5], "nice": false, "zero": false}, "axis": {"values": [20, 22, 24, 26], "labels": false, "title": null}},
              "y": {"field": "y", "type": "quantitative", "scale": {"domain": [-7.35, -1.6], "nice": false, "zero": false}, "axis": {"values": [-2, -4, -6], "title": "log₁₀(Φ[Mpc⁻³dex⁻¹])"}}
            },
            "layer": [
              {"transform": [{"filter": "datum.s == 'Shark - AGN'"}], "mark": {"type": "line", "clip": true, "stroke": "#000", "strokeWidth": 6.5, "strokeJoin": "round"}, "encoding": {}},
              {"transform": [{"filter": "datum.s == 'Shark - AGN'"}], "mark": {"type": "line", "clip": true, "stroke": "#ee1111", "strokeWidth": 4.5, "strokeJoin": "round"}, "encoding": {}},
              {"transform": [{"filter": "isValid(datum.lo)"}], "mark": {"type": "rule", "clip": true, "color": "#000", "strokeWidth": 1.2}, "encoding": {"y": {"field": "lo", "type": "quantitative"}, "y2": {"field": "hi"}}},
              {"transform": [{"filter": "datum.s != 'lbl' && indexof(datum.s, 'Shark') != 0"}], "mark": {"type": "point", "filled": true, "strokeWidth": 1, "size": 289, "opacity": 1, "clip": true},
               "encoding": {
                 "shape": {"field": "s", "type": "nominal", "scale": {"domain": ["Shark - SF", "Shark - SF from Novak et al. (2017)", "Butler et al. (2019)", "Padovani et al. (2015)", "Shark - AGN", "Bonato et al. (2020)", "Ocran et al. (2020)", "Smolčić et al. (2017)", "Shark - Total", "Novak et al.(2017)", "Ceraj et al. (2018)", "Novak et al. (2018)"], "range": ["M-1.25,-0.28L1.25,-0.28L1.25,0.28L-1.25,0.28Z", "M-1.25,-0.28L1.25,-0.28L1.25,0.28L-1.25,0.28Z", "M0,-0.6L0.571,-0.186L0.353,0.486L-0.353,0.486L-0.571,-0.186ZM0,-0.75L0,0.75", "M0,-0.6L0.52,-0.3L0.52,0.3L0,0.6L-0.52,0.3L-0.52,-0.3ZM0,-0.75L0,0.75", "M-1.25,-0.28L1.25,-0.28L1.25,0.28L-1.25,0.28Z", "M-0.6,0A0.6,0.6 0 1,1 0.6,0A0.6,0.6 0 1,1 -0.6,0ZM0,-0.75L0,0.75", "M0,-0.66L0.62,0.5L-0.62,0.5ZM0,-0.75L0,0.75", "M0.298,-0.552L0.552,-0.298L0.254,0L0.552,0.298L0.298,0.552L0,0.254L-0.298,0.552L-0.552,0.298L-0.254,0L-0.552,-0.298L-0.298,-0.552L0,-0.254ZM0,-0.75L0,0.75", "M-1.25,-0.28L1.25,-0.28L1.25,0.28L-1.25,0.28Z", "M-0.6,-0.6L0.6,-0.6L0.6,0.6L-0.6,0.6ZM0,-0.75L0,0.75", "M-0.2,-0.6L0.2,-0.6L0.2,-0.2L0.6,-0.2L0.6,0.2L0.2,0.2L0.2,0.6L-0.2,0.6L-0.2,0.2L-0.6,0.2L-0.6,-0.2L-0.2,-0.2ZM0,-0.75L0,0.75", "M0,-0.66L0.148,-0.203L0.628,-0.204L0.239,0.077L0.388,0.534L0,0.251L-0.388,0.534L-0.239,0.077L-0.628,-0.204L-0.148,-0.203ZM0,-0.75L0,0.75"]},
                   "legend": {"orient": "none", "legendX": 8, "legendY": 524, "columns": 4, "direction": "horizontal", "title": null}},
                 "fill": {"field": "s", "type": "nominal", "scale": {"domain": ["Shark - SF", "Shark - SF from Novak et al. (2017)", "Butler et al. (2019)", "Padovani et al. (2015)", "Shark - AGN", "Bonato et al. (2020)", "Ocran et al. (2020)", "Smolčić et al. (2017)", "Shark - Total", "Novak et al.(2017)", "Ceraj et al. (2018)", "Novak et al. (2018)"], "range": ["#0a14f0", "#f5a020", "transparent", "transparent", "#ee1111", "transparent", "transparent", "transparent", "#777777", "transparent", "transparent", "transparent"]},
                   "legend": {"orient": "none", "legendX": 8, "legendY": 524, "columns": 4, "direction": "horizontal", "title": null}},
                 "stroke": {"field": "s", "type": "nominal", "scale": {"domain": ["Shark - SF", "Shark - SF from Novak et al. (2017)", "Butler et al. (2019)", "Padovani et al. (2015)", "Shark - AGN", "Bonato et al. (2020)", "Ocran et al. (2020)", "Smolčić et al. (2017)", "Shark - Total", "Novak et al.(2017)", "Ceraj et al. (2018)", "Novak et al. (2018)"], "range": ["#000", "#000", "#000", "#000", "#000", "#000", "#000", "#000", "#000", "#000", "#000", "#000"]},
                   "legend": {"orient": "none", "legendX": 8, "legendY": 524, "columns": 4, "direction": "horizontal", "title": null}}
               }},
              {"transform": [{"filter": "datum.s == 'lbl'"}], "mark": {"type": "text", "font": "DejaVu Sans", "fontWeight": "bold", "fontSize": 12, "color": "#000"}, "encoding": {"text": {"field": "t"}}}
            ]
          }
        },
        {
          "data": {"name": "lf"},
          "transform": [{"filter": "datum.r == 'Total'"}],
          "facet": {"column": {"field": "z", "type": "ordinal", "title": null, "header": {"title": null, "labelOrient": "bottom", "titleOrient": "bottom", "labelFont": "DejaVu Sans Condensed", "labelFontSize": 10.5, "labelPadding": 4, "labelExpr": "'log₁₀(Lrad, 1.4GHz[W/Hz])'"}}},
          "spacing": {"column": 0},
          "spec": {
            "width": 157,
            "height": 120,
            "encoding": {
              "x": {"field": "x", "type": "quantitative", "scale": {"domain": [19.8, 27.5], "nice": false, "zero": false}, "axis": {"values": [20, 22, 24, 26], "title": null}},
              "y": {"field": "y", "type": "quantitative", "scale": {"domain": [-7.35, -1.6], "nice": false, "zero": false}, "axis": {"values": [-2, -4, -6], "title": "log₁₀(Φ[Mpc⁻³dex⁻¹])"}}
            },
            "layer": [
              {"transform": [{"filter": "datum.s == 'Shark - Total'"}], "mark": {"type": "line", "clip": true, "stroke": "#000", "strokeWidth": 6.5, "strokeJoin": "round"}, "encoding": {}},
              {"transform": [{"filter": "datum.s == 'Shark - Total'"}], "mark": {"type": "line", "clip": true, "stroke": "#777777", "strokeWidth": 4.5, "strokeJoin": "round"}, "encoding": {}},
              {"transform": [{"filter": "isValid(datum.lo)"}], "mark": {"type": "rule", "clip": true, "color": "#000", "strokeWidth": 1.2}, "encoding": {"y": {"field": "lo", "type": "quantitative"}, "y2": {"field": "hi"}}},
              {"transform": [{"filter": "datum.s != 'lbl' && indexof(datum.s, 'Shark') != 0"}], "mark": {"type": "point", "filled": true, "strokeWidth": 1, "size": 289, "opacity": 1, "clip": true},
               "encoding": {
                 "shape": {"field": "s", "type": "nominal", "scale": {"domain": ["Shark - SF", "Shark - SF from Novak et al. (2017)", "Butler et al. (2019)", "Padovani et al. (2015)", "Shark - AGN", "Bonato et al. (2020)", "Ocran et al. (2020)", "Smolčić et al. (2017)", "Shark - Total", "Novak et al.(2017)", "Ceraj et al. (2018)", "Novak et al. (2018)"], "range": ["M-1.25,-0.28L1.25,-0.28L1.25,0.28L-1.25,0.28Z", "M-1.25,-0.28L1.25,-0.28L1.25,0.28L-1.25,0.28Z", "M0,-0.6L0.571,-0.186L0.353,0.486L-0.353,0.486L-0.571,-0.186ZM0,-0.75L0,0.75", "M0,-0.6L0.52,-0.3L0.52,0.3L0,0.6L-0.52,0.3L-0.52,-0.3ZM0,-0.75L0,0.75", "M-1.25,-0.28L1.25,-0.28L1.25,0.28L-1.25,0.28Z", "M-0.6,0A0.6,0.6 0 1,1 0.6,0A0.6,0.6 0 1,1 -0.6,0ZM0,-0.75L0,0.75", "M0,-0.66L0.62,0.5L-0.62,0.5ZM0,-0.75L0,0.75", "M0.298,-0.552L0.552,-0.298L0.254,0L0.552,0.298L0.298,0.552L0,0.254L-0.298,0.552L-0.552,0.298L-0.254,0L-0.552,-0.298L-0.298,-0.552L0,-0.254ZM0,-0.75L0,0.75", "M-1.25,-0.28L1.25,-0.28L1.25,0.28L-1.25,0.28Z", "M-0.6,-0.6L0.6,-0.6L0.6,0.6L-0.6,0.6ZM0,-0.75L0,0.75", "M-0.2,-0.6L0.2,-0.6L0.2,-0.2L0.6,-0.2L0.6,0.2L0.2,0.2L0.2,0.6L-0.2,0.6L-0.2,0.2L-0.6,0.2L-0.6,-0.2L-0.2,-0.2ZM0,-0.75L0,0.75", "M0,-0.66L0.148,-0.203L0.628,-0.204L0.239,0.077L0.388,0.534L0,0.251L-0.388,0.534L-0.239,0.077L-0.628,-0.204L-0.148,-0.203ZM0,-0.75L0,0.75"]},
                   "legend": {"orient": "none", "legendX": 8, "legendY": 524, "columns": 4, "direction": "horizontal", "title": null}},
                 "fill": {"field": "s", "type": "nominal", "scale": {"domain": ["Shark - SF", "Shark - SF from Novak et al. (2017)", "Butler et al. (2019)", "Padovani et al. (2015)", "Shark - AGN", "Bonato et al. (2020)", "Ocran et al. (2020)", "Smolčić et al. (2017)", "Shark - Total", "Novak et al.(2017)", "Ceraj et al. (2018)", "Novak et al. (2018)"], "range": ["#0a14f0", "#f5a020", "transparent", "transparent", "#ee1111", "transparent", "transparent", "transparent", "#777777", "transparent", "transparent", "transparent"]},
                   "legend": {"orient": "none", "legendX": 8, "legendY": 524, "columns": 4, "direction": "horizontal", "title": null}},
                 "stroke": {"field": "s", "type": "nominal", "scale": {"domain": ["Shark - SF", "Shark - SF from Novak et al. (2017)", "Butler et al. (2019)", "Padovani et al. (2015)", "Shark - AGN", "Bonato et al. (2020)", "Ocran et al. (2020)", "Smolčić et al. (2017)", "Shark - Total", "Novak et al.(2017)", "Ceraj et al. (2018)", "Novak et al. (2018)"], "range": ["#000", "#000", "#000", "#000", "#000", "#000", "#000", "#000", "#000", "#000", "#000", "#000"]},
                   "legend": {"orient": "none", "legendX": 8, "legendY": 524, "columns": 4, "direction": "horizontal", "title": null}}
               }},
              {"transform": [{"filter": "datum.s == 'lbl'"}], "mark": {"type": "text", "font": "DejaVu Sans", "fontWeight": "bold", "fontSize": 12, "color": "#000"}, "encoding": {"text": {"field": "t"}}}
            ]
          }
        }
      ]
    }
  ],
  "spacing": 60
}
